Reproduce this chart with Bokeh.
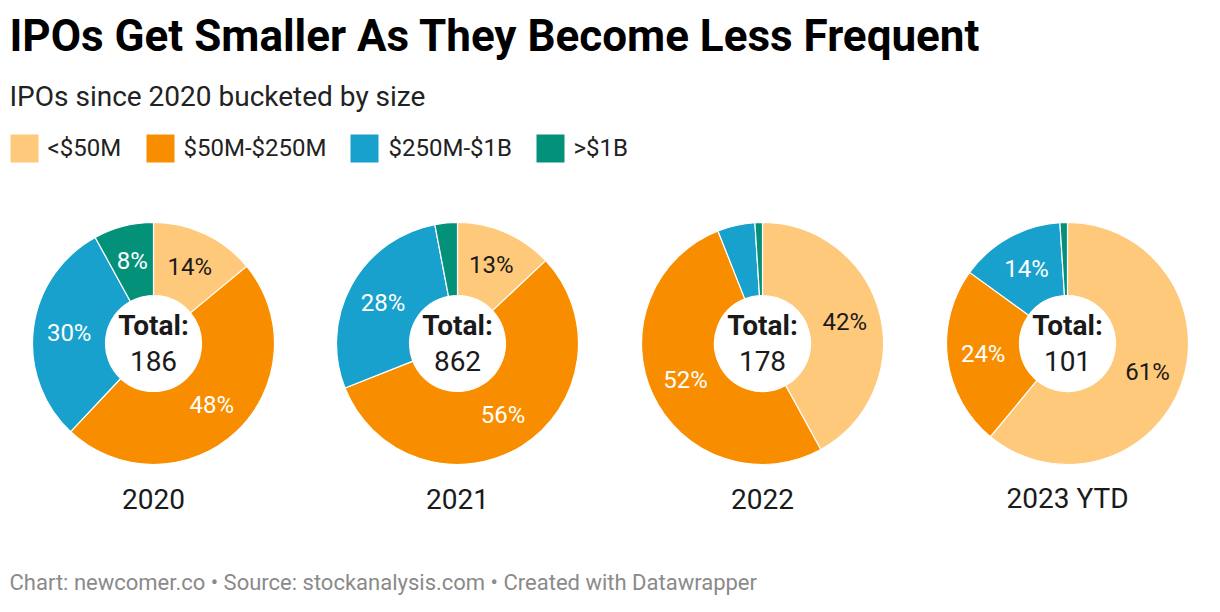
import math
from bokeh.plotting import figure
from bokeh.models import Range1d, ColumnDataSource
from bokeh.core.properties import value
from bokeh.embed import file_html
from bokeh.resources import INLINE

# ---- data ----
years = ["2020", "2021", "2022", "2023 YTD"]
totals = [186, 862, 178, 101]
categories = ["<$50M", "$50M-$250M", "$250M-$1B", ">$1B"]
under_50m = [14, 13, 42, 61]
from_50m_to_250m = [48, 56, 52, 24]
from_250m_to_1b = [30, 28, 5, 14]
over_1b = [8, 3, 1, 1]

title = "IPOs Get Smaller As They Become Less Frequent"
subtitle = "IPOs since 2020 bucketed by size"
footer = "Chart: newcomer.co \u2022 Source: stockanalysis.com \u2022 Created with Datawrapper"

colors = ["#fec97a", "#f88d00", "#18a1cd", "#04917a"]
label_colors = ["#1a1a1a", "#ffffff", "#ffffff", "#ffffff"]

# ---- layout (pixels) ----
W, H = 1204, 596
FONT = "Roboto"

def Y(img_y):
    return H - img_y

def X(img_x):
    return img_x

p = figure(width=W, height=H, x_range=Range1d(0, W), y_range=Range1d(0, H),
           output_backend="svg", toolbar_location=None, min_border=0)
p.axis.visible = False
p.grid.visible = False
p.outline_line_color = None
p.background_fill_color = "white"
p.border_fill_color = "white"

# titles
p.text(x=[X(9)], y=[Y(35)], text=[title], text_font=value(FONT), text_font_size="44px",
       text_font_style="bold", text_color="#000000", text_baseline="middle")
p.text(x=[X(9)], y=[Y(96)], text=[subtitle], text_font=value(FONT), text_font_size="28px",
       text_color="#222222", text_baseline="middle")

# legend
leg_sq_x = [10, 146, 350, 536]
leg_tx_x = [47, 183, 388, 573]
p.rect(x=[X(v + 14) for v in leg_sq_x], y=[Y(148)] * 4, width=28, height=28,
       fill_color=colors, line_color=None)
p.text(x=[X(v) for v in leg_tx_x], y=[Y(147)] * 4, text=categories, text_font=value(FONT),
       text_font_size="24px", text_color="#222222", text_baseline="middle")

# donuts
centers_x = [153, 457, 762, 1067]
cy = 343
R_OUT, R_IN, R_LAB = 121, 48, 85
series = [under_50m, from_50m_to_250m, from_250m_to_1b, over_1b]

ws = dict(x=[], y=[], start=[], end=[], color=[])
ls = dict(x=[], y=[], text=[], color=[])
for i, yr in enumerate(years):
    cx = X(centers_x[i])
    cyd = Y(cy)
    cum = 0.0
    for k in range(4):
        v = series[k][i]
        t1 = cum / 100 * 2 * math.pi
        t2 = (cum + v) / 100 * 2 * math.pi
        ws["x"].append(cx); ws["y"].append(cyd)
        ws["start"].append(math.pi / 2 - t1)
        ws["end"].append(math.pi / 2 - t2)
        ws["color"].append(colors[k])
        if v >= 8:
            tm = (t1 + t2) / 2
            ls["x"].append(cx + R_LAB * math.sin(tm))
            ls["y"].append(cyd + R_LAB * math.cos(tm))
            ls["text"].append(f"{v}%")
            ls["color"].append(label_colors[k])
        cum += v

p.annular_wedge(x="x", y="y", inner_radius=R_IN, outer_radius=R_OUT,
                start_angle="start", end_angle="end", direction="clock",
                fill_color="color", line_color="white", line_width=1.2,
                source=ColumnDataSource(ws))
p.text(x="x", y="y", text="text", text_color="color", text_font=value(FONT),
       text_font_size="24px", text_align="center", text_baseline="middle",
       source=ColumnDataSource(ls))

# center texts
p.text(x=[X(c) for c in centers_x], y=[Y(325)] * 4, text=["Total:"] * 4,
       text_font=value(FONT), text_font_size="28px", text_font_style="bold",
       text_color="#1a1a1a", text_align="center", text_baseline="middle")
p.text(x=[X(c) for c in centers_x], y=[Y(360)] * 4, text=[str(t) for t in totals],
       text_font=value(FONT), text_font_size="28px",
       text_color="#1a1a1a", text_align="center", text_baseline="middle")

# year labels
p.text(x=[X(c) for c in centers_x], y=[Y(498)] * 4, text=years,
       text_font=value(FONT), text_font_size="28px",
       text_color="#1a1a1a", text_align="center", text_baseline="middle")

# footer
p.text(x=[X(9)], y=[Y(582)], text=[footer], text_font=value(FONT), text_font_size="22px",
       text_color="#8a8a8a", text_baseline="middle")

open("out.html", "w").write(file_html(p, INLINE))
